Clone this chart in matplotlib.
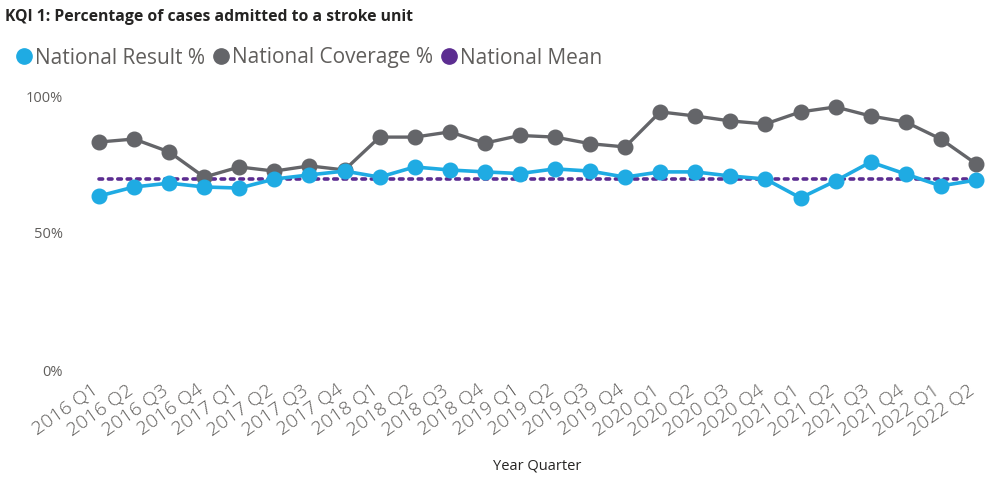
import matplotlib.pyplot as plt
import matplotlib.transforms as mtransforms
from matplotlib.lines import Line2D

plt.rcParams['font.family'] = ['Open Sans', 'DejaVu Sans']

# Quarters shown on the x axis
quarters = ["2016 Q1", "2016 Q2", "2016 Q3", "2016 Q4",
            "2017 Q1", "2017 Q2", "2017 Q3", "2017 Q4",
            "2018 Q1", "2018 Q2", "2018 Q3", "2018 Q4",
            "2019 Q1", "2019 Q2", "2019 Q3", "2019 Q4",
            "2020 Q1", "2020 Q2", "2020 Q3", "2020 Q4",
            "2021 Q1", "2021 Q2", "2021 Q3", "2021 Q4",
            "2022 Q1", "2022 Q2"]

# values (%)
national_result = [63.5, 66.8, 68.2, 66.8, 66.4, 69.7, 71.2, 72.6,
                   70.4, 74.1, 73.0, 72.3, 71.7, 73.4, 72.6, 70.4,
                   72.3, 72.3, 70.8, 69.7, 62.8, 69.0, 75.9, 71.5,
                   67.2, 69.3]
national_coverage = [83.2, 84.3, 79.6, 70.4, 74.1, 72.6, 74.5, 73.0,
                     85.0, 85.0, 86.9, 82.8, 85.6, 85.0, 82.6, 81.4,
                     94.2, 92.7, 90.9, 89.8, 94.2, 96.0, 92.7, 90.5,
                     84.3, 75.3]
national_mean = 69.7

yticks = [0, 50, 100]
ytick_labels = ["0%", "50%", "100%"]

blue = "#1FABE3"
grey = "#646569"
purple = "#5C2D91"
text_grey = "#605E5C"

fig = plt.figure(figsize=(9.85, 4.79), dpi=100)
ax = fig.add_axes([82 / 985, (479 - 370) / 479, (985 - 82) / 985, (370 - 96) / 479])

x = list(range(len(quarters)))

ax.plot(x, [national_mean] * len(x), color=purple, lw=2.6, ls=(0, (1, 1.6)),
        dash_capstyle="round", zorder=1, clip_on=False)
ax.plot(x, national_coverage, color=grey, lw=2.4, marker="o", ms=10.5,
        zorder=2, clip_on=False)
ax.plot(x, national_result, color=blue, lw=2.6, marker="o", ms=10.5,
        zorder=3, clip_on=False)

ax.set_ylim(0, 100)
ax.set_xlim(-0.485, 25.26)
ax.set_yticks(yticks)
ax.set_yticklabels(ytick_labels)
ax.set_xticks(x)
ax.set_xticklabels(quarters, rotation=35, ha="right", va="top",
                   rotation_mode="anchor", fontweight="light")
ax.tick_params(axis="both", length=0, colors=text_grey)
ax.tick_params(axis="y", pad=14, labelsize=10.5)
ax.tick_params(axis="x", pad=8, labelsize=14)
# shift rotated labels a little left, like the original
shift = mtransforms.ScaledTranslation(-8 / 100, 0, fig.dpi_scale_trans)
for lab in ax.get_xticklabels():
    lab.set_transform(lab.get_transform() + shift)
for s in ax.spines.values():
    s.set_visible(False)

fig.text(537 / 985, 1 - 466 / 479, "Year Quarter", fontsize=10.5, color="#252423",
         ha="center", va="center")

fig.text(5 / 985, 1 - 17 / 479, "KQI 1: Percentage of cases admitted to a stroke unit",
         fontsize=11.3, fontweight="bold", color="#252423", va="center")

handles = [Line2D([], [], ls="none", marker="o", ms=11, color=c) for c in (blue, grey, purple)]
labels = ["National Result %", "National Coverage %", "National Mean"]
fig.legend(handles, labels, loc="center left", bbox_to_anchor=(5 / 985, 1 - 58 / 479),
           ncol=3, frameon=False, fontsize=15, labelcolor=text_grey,
           handletextpad=0.05, columnspacing=0.25, handlelength=1.0, borderaxespad=0)

fig.savefig("out.png", dpi=100)
